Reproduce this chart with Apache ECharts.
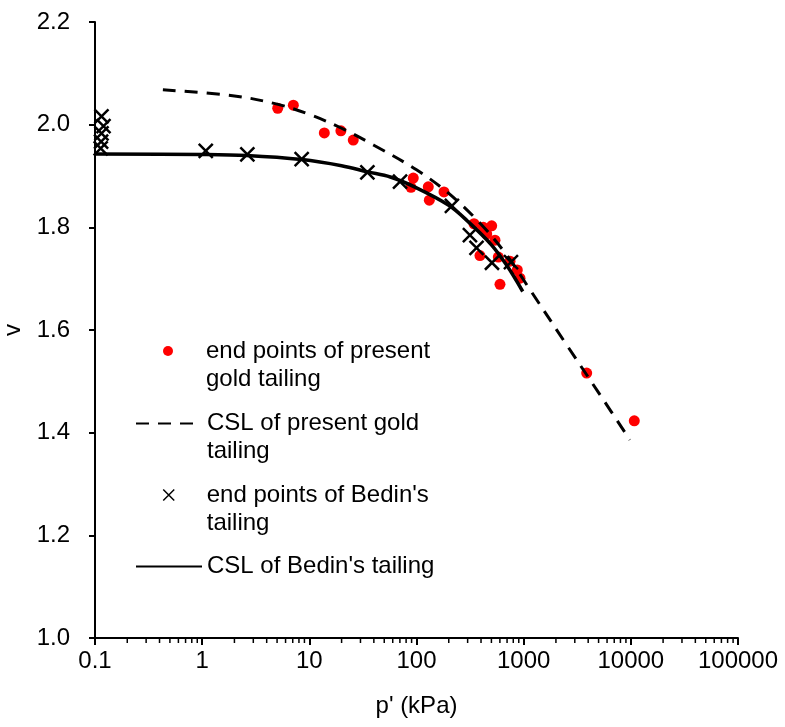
<!DOCTYPE html>
<html>
<head>
<meta charset="utf-8">
<script src="https://cdn.jsdelivr.net/npm/echarts@6/dist/echarts.min.js"></script>
<style>
  html, body { margin: 0; padding: 0; background: #ffffff; }
  #chart { width: 785px; height: 727px; }
</style>
</head>
<body>
<div id="chart"></div>
<script>
// End points of the present gold tailing: mean effective stress p' (kPa) and specific volume v
const goldP = [5.07, 7.09, 13.8, 19.7, 25.7, 93.3, 88.8, 128.8, 131.7, 180.5, 344, 420, 503, 452, 540, 391, 580, 746, 872, 924, 601, 3873, 10770];
const goldV = [2.032, 2.038, 1.984, 1.988, 1.970, 1.896, 1.878, 1.879, 1.853, 1.869, 1.807, 1.800, 1.803, 1.787, 1.775, 1.745, 1.742, 1.734, 1.717, 1.701, 1.689, 1.516, 1.423];

// Critical state line of the present gold tailing
const goldCslP = [0.43, 2, 5, 10, 20, 40, 100, 200, 400, 700, 1150, 2500, 5000, 9800];
const goldCslV = [2.068, 2.056, 2.040, 2.020, 1.993, 1.960, 1.912, 1.866, 1.806, 1.745, 1.678, 1.572, 1.478, 1.386];

// End points of Bedin's tailing
const bedinP = [0.115, 0.12, 0.115, 0.114, 0.113, 1.08, 2.64, 8.48, 34.8, 70.2, 214, 315, 363, 506, 761];
const bedinV = [2.016, 1.997, 1.983, 1.967, 1.954, 1.949, 1.942, 1.933, 1.907, 1.889, 1.842, 1.785, 1.760, 1.731, 1.732];

// Critical state line of Bedin's tailing
const bedinCslP = [0.1, 1, 2.6, 8.5, 20, 35, 57, 100, 200, 300, 500, 700, 980];
const bedinCslV = [1.943, 1.942, 1.940, 1.932, 1.920, 1.908, 1.898, 1.877, 1.843, 1.812, 1.766, 1.725, 1.675];

// Axis ticks
const xTickValues = [0.1, 1, 10, 100, 1000, 10000, 100000];
const xTickLabels = ['0.1', '1', '10', '100', '1000', '10000', '100000'];
const yTickValues = [1.0, 1.2, 1.4, 1.6, 1.8, 2.0, 2.2];
const yTickLabels = ['1.0', '1.2', '1.4', '1.6', '1.8', '2.0', '2.2'];
const minorDecades = [0.1, 1, 10, 100, 1000, 10000];
const minorSteps = [2, 3, 4, 5, 6, 7, 8, 9];

// Legend entries (series name, wrapped label)
const seriesNames = [
  'end points of present gold tailing',
  'CSL of present gold tailing',
  "end points of Bedin's tailing",
  "CSL of Bedin's tailing"
];
const legendLabels = [
  'end points of present\ngold tailing',
  'CSL of present gold\ntailing',
  "end points of Bedin's\ntailing",
  "CSL of Bedin's tailing"
];

const FONT = "'Liberation Sans', Arial, Helvetica, sans-serif";
const zip = (xs, ys) => xs.map((x, i) => [x, ys[i]]);

const minorTicks = [];
minorDecades.forEach(d => minorSteps.forEach(m => minorTicks.push([+(d * m).toPrecision(6), yTickValues[0]])));

const crossPath = 'path://M0,0L10,10M10,0L0,10';

function nearestLabel(values, labels, v) {
  let best = 0;
  for (let i = 1; i < values.length; i++) {
    if (Math.abs(Math.log(values[i] / v)) < Math.abs(Math.log(values[best] / v))) best = i;
  }
  return labels[best];
}

// A wrapped label gets an empty leading line so that its first line sits level with the icon.
function legendEntry(i, left, top, extra) {
  const label = legendLabels[i];
  const text = label.indexOf('\n') >= 0 ? '\n' + label : label;
  return Object.assign({
    data: [seriesNames[i]],
    orient: 'vertical',
    left: left,
    top: top,
    padding: 0,
    itemWidth: 66,
    itemHeight: 14,
    selectedMode: false,
    formatter: () => text,
    textStyle: {
      fontFamily: FONT,
      fontSize: 24,
      color: '#000',
      lineHeight: 28
    }
  }, extra || {});
}

const hiddenMarker = { color: 'rgba(0,0,0,0)', borderWidth: 0, opacity: 0 };

const chart = echarts.init(document.getElementById('chart'), null, { renderer: 'canvas' });

chart.setOption({
  animation: false,
  backgroundColor: '#ffffff',
  textStyle: { fontFamily: FONT },
  grid: { left: 95, right: 47, top: 22, bottom: 89, containLabel: false, outerBoundsMode: 'none' },
  legend: [
    legendEntry(0, 163, 309, { itemHeight: 10, itemStyle: { color: '#ff0000', opacity: 1 } }),
    legendEntry(1, 135, 381.5, { itemStyle: hiddenMarker }),
    legendEntry(2, 162.5, 453, { itemHeight: 11, itemStyle: { color: '#000', borderColor: '#000', borderWidth: 1.5, opacity: 1 } }),
    legendEntry(3, 135, 552.5, { itemStyle: hiddenMarker })
  ],
  xAxis: {
    type: 'log',
    logBase: 10,
    min: 0.1,
    max: 100000,
    name: "p' (kPa)",
    nameLocation: 'middle',
    nameGap: 56,
    nameTextStyle: { fontFamily: FONT, fontSize: 24, color: '#000' },
    axisLine: { onZero: false, lineStyle: { color: '#000', width: 2 } },
    axisTick: { show: true, inside: false, length: 7, lineStyle: { color: '#000', width: 2 } },
    axisLabel: {
      margin: 11,
      fontFamily: FONT,
      fontSize: 24,
      color: '#000',
      formatter: v => nearestLabel(xTickValues, xTickLabels, v)
    },
    splitLine: { show: false }
  },
  yAxis: {
    type: 'value',
    min: 1.0,
    max: 2.2,
    interval: 0.2,
    name: 'v',
    nameLocation: 'middle',
    nameGap: 69,
    nameTextStyle: { fontFamily: FONT, fontSize: 24, color: '#000' },
    axisLine: { show: true, onZero: false, lineStyle: { color: '#000', width: 2 } },
    axisTick: { show: true, inside: false, length: 6, lineStyle: { color: '#000', width: 2 } },
    axisLabel: {
      margin: 25,
      fontFamily: FONT,
      fontSize: 24,
      color: '#000',
      formatter: v => nearestLabel(yTickValues, yTickLabels, v)
    },
    splitLine: { show: false }
  },
  series: [
    {
      name: 'minor ticks',
      type: 'custom',
      silent: true,
      clip: false,
      z: 1,
      data: minorTicks,
      encode: { x: 0, y: 1 },
      renderItem: (params, api) => {
        const p = api.coord([api.value(0), api.value(1)]);
        return {
          type: 'line',
          shape: { x1: p[0], y1: p[1], x2: p[0], y2: p[1] + 5 },
          style: { stroke: '#000', lineWidth: 1.5 }
        };
      }
    },
    {
      name: seriesNames[0],
      type: 'scatter',
      data: zip(goldP, goldV),
      symbol: 'circle',
      symbolSize: 11,
      itemStyle: { color: '#ff0000', opacity: 1 },
      z: 2
    },
    {
      name: seriesNames[2],
      type: 'scatter',
      data: zip(bedinP, bedinV),
      symbol: crossPath,
      symbolSize: 14,
      itemStyle: { color: '#000', borderColor: '#000', borderWidth: 2.5, opacity: 1 },
      z: 3
    },
    {
      name: seriesNames[1],
      type: 'line',
      data: zip(goldCslP, goldCslV),
      symbol: 'none',
      showSymbol: false,
      smooth: 0.35,
      lineStyle: { color: '#000', width: 3, type: [13, 9] },
      itemStyle: { color: '#000' },
      z: 4
    },
    {
      name: seriesNames[3],
      type: 'line',
      data: zip(bedinCslP, bedinCslV),
      symbol: 'none',
      showSymbol: false,
      smooth: 0.35,
      lineStyle: { color: '#000', width: 3.5 },
      itemStyle: { color: '#000' },
      z: 5
    }
  ]
});
</script>
</body>
</html>
